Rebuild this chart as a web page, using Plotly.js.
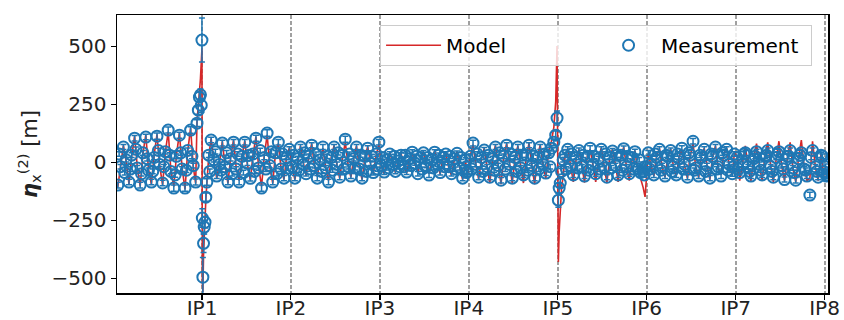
<!DOCTYPE html>
<html>
<head>
<meta charset="utf-8">
<script src="https://cdn.plot.ly/plotly-3.0.1.min.js"></script>
<style>html,body{margin:0;padding:0;background:#fff;}#chart{width:844px;height:320px;}</style>
</head>
<body>
<div id="chart"></div>
<script>
// IP positions along the ring [km] and their labels
const ipPos = [3.19, 6.52, 9.86, 13.19, 16.53, 19.86, 23.20, 26.53];
const ipLabels = ["IP1", "IP2", "IP3", "IP4", "IP5", "IP6", "IP7", "IP8"];

// BPM longitudinal positions [km] (BPMs at focusing quadrupoles and at the IRs)
const sBpm = [
 0.03,0.13,0.24,0.34,0.45,0.55,0.66,0.76,0.87,0.97,1.08,1.18,1.29,1.39,1.50,1.60,1.71,1.81,1.92,2.02,2.13,2.23,2.34,2.44,2.55,2.65,2.76,2.86,2.95,3.00,3.05,3.09,3.13,3.16,3.185,3.20,3.22,3.245,3.27,3.30,3.33,3.37,
 3.44,3.53,3.63,3.74,3.84,3.95,4.05,4.16,4.26,4.37,4.47,4.58,4.68,4.79,4.89,5.00,5.10,5.21,5.31,5.42,5.52,5.63,5.73,5.84,5.94,6.05,6.15,6.26,6.36,6.46,
 6.57,6.67,6.78,6.88,6.99,7.09,7.20,7.30,7.41,7.51,7.62,7.72,7.83,7.93,8.04,8.14,8.25,8.35,8.46,8.56,8.67,8.77,8.88,8.98,9.09,9.19,9.30,9.40,9.51,9.61,9.72,9.82,
 9.92,10.02,10.13,10.23,10.34,10.44,10.55,10.65,10.76,10.86,10.97,11.07,11.18,11.28,11.39,11.49,11.60,11.70,11.81,11.91,12.02,12.12,12.23,12.33,12.44,12.54,12.65,12.75,12.86,12.96,13.07,13.14,
 13.25,13.35,13.46,13.56,13.67,13.77,13.88,13.98,14.09,14.19,14.30,14.40,14.51,14.61,14.72,14.82,14.93,15.03,15.14,15.24,15.35,15.45,15.56,15.66,15.77,15.87,15.98,16.08,16.19,16.29,16.38,16.45,16.50,16.55,16.58,16.62,16.67,16.73,
 16.80,16.90,17.01,17.11,17.22,17.32,17.43,17.53,17.64,17.74,17.85,17.95,18.06,18.16,18.27,18.37,18.48,18.58,18.69,18.79,18.90,19.00,19.11,19.21,19.32,19.42,19.53,19.63,19.73,19.80,
 19.92,20.02,20.13,20.23,20.34,20.44,20.55,20.65,20.76,20.86,20.97,21.07,21.18,21.28,21.39,21.49,21.60,21.70,21.81,21.91,22.02,22.12,22.23,22.33,22.44,22.54,22.65,22.75,22.86,22.96,23.07,23.15,
 23.25,23.35,23.46,23.56,23.67,23.77,23.88,23.98,24.09,24.19,24.30,24.40,24.51,24.61,24.72,24.82,24.93,25.03,25.14,25.24,25.35,25.45,25.56,25.66,25.77,25.87,25.98,26.08,26.19,26.29,26.40,26.50,26.56,26.63
];

// Measured second order dispersion [m]
const etaMeas = [
 -99,-20,65,10,-86,30,103,-25,-99,40,108,-35,-86,20,112,-10,-90,45,138,-40,-112,25,116,-30,-112,50,138,-15,-86,168,224,280,290,245,526,-241,-496,-350,-280,-259,-151,-86,
 30,95,10,-60,-10,82,-20,-86,15,86,-30,-86,25,86,-5,-70,35,103,-25,-112,20,125,-15,-86,40,86,-30,-69,20,55,
 -20,-69,15,65,-10,-50,25,73,-15,-69,10,65,-25,-86,20,65,-10,-65,30,99,-20,-60,15,65,-30,-69,25,60,-5,-45,35,86,
 -15,-43,10,35,-10,-40,5,30,-20,-43,15,43,-5,-50,20,40,-15,-56,10,43,-10,-45,20,35,-20,-50,15,38,-25,-69,10,-40,
 25,82,-10,-65,20,52,-20,-65,15,65,-15,-78,25,73,-10,-69,20,65,-25,-55,30,73,-15,-69,20,65,-10,-47,40,60,86,116,190,-164,-112,-90,-40,10,
 30,55,-15,-55,20,50,-20,-60,25,60,-10,-50,15,55,-25,-65,20,48,-15,-55,30,58,-20,-50,20,45,-30,-45,-40,-20,
 40,-10,-55,20,55,-15,-60,25,50,-20,-55,15,60,-10,-65,30,90,-25,-60,20,55,-15,-69,25,65,-20,-60,30,55,-10,-50,35,
 20,-45,-10,40,-20,-60,15,45,-10,-55,25,50,-20,-65,20,45,-15,-75,25,50,-25,-78,15,40,-30,-60,-142,50,-20,-65,30,-40,-20,-55
];

// Measurement uncertainty [m]
const etaErr = [
 12,10,11,10,12,10,12,10,12,10,12,10,12,10,13,10,12,10,13,10,13,10,13,10,13,11,14,10,13,15,18,22,25,30,95,40,85,40,30,25,18,14,
 10,12,10,11,10,12,10,12,10,12,10,12,10,12,10,11,10,13,10,13,10,14,10,12,10,12,10,11,10,11,
 10,11,10,11,10,10,10,11,10,11,10,11,10,12,10,11,10,11,10,13,10,11,10,11,10,11,10,11,10,10,10,12,
 9,10,9,10,9,10,9,10,9,10,9,10,9,10,9,10,9,10,9,10,9,10,9,10,9,10,9,10,9,11,9,10,
 10,12,10,11,10,11,10,11,10,11,10,12,10,11,10,11,10,11,10,11,10,11,10,11,10,11,10,11,11,12,14,18,30,30,22,18,12,10,
 10,11,10,11,10,11,10,11,10,11,10,11,10,11,10,11,10,11,10,11,10,11,10,11,10,11,10,11,11,12,
 10,10,11,10,11,10,11,10,11,10,11,10,11,10,11,10,12,10,11,10,11,10,11,10,11,10,11,10,11,10,11,10,
 10,11,10,11,10,11,10,11,10,11,10,11,10,11,10,11,10,11,10,11,10,12,10,11,10,11,12,11,10,11,10,12,12,12
];

// Additional BPMs (defocusing quadrupoles) [km], measured values [m] and uncertainties [m]
const sBpmD = [
 0.08,0.29,0.50,0.71,0.92,1.13,1.34,1.55,1.76,1.97,2.18,2.39,2.60,2.81,
 3.48,3.69,3.90,4.11,4.32,4.53,4.74,4.95,5.16,5.37,5.58,5.79,6.00,6.21,6.42,
 6.62,6.83,7.04,7.25,7.46,7.67,7.88,8.09,8.30,8.51,8.72,8.93,9.14,9.35,9.56,9.77,
 9.97,10.18,10.39,10.60,10.81,11.02,11.23,11.44,11.65,11.86,12.07,12.28,12.49,12.70,12.91,13.10,
 13.30,13.51,13.72,13.93,14.14,14.35,14.56,14.77,14.98,15.19,15.40,15.61,15.82,16.03,16.24,
 16.85,17.06,17.27,17.48,17.69,17.90,18.11,18.32,18.53,18.74,18.95,19.16,19.37,19.58,19.77,
 19.97,20.18,20.39,20.60,20.81,21.02,21.23,21.44,21.65,21.86,22.07,22.28,22.49,22.70,22.91,23.11,
 23.30,23.51,23.72,23.93,24.14,24.35,24.56,24.77,24.98,25.19,25.40,25.61,25.82,26.03,26.24,26.45,26.60
];
const etaMeasD = [
 35,-45,-30,55,-50,15,-40,50,-20,30,-55,40,-35,25,
 -40,45,-35,40,-50,35,-45,30,-40,50,-30,45,-50,35,-25,
 30,-35,40,-30,35,-40,25,-35,40,-30,35,-25,30,-40,25,-30,
 20,-25,25,-20,30,-15,25,-30,20,-25,30,-20,25,-30,20,-45,
 -30,35,-40,30,-35,40,-30,35,-40,30,-35,25,-30,35,-20,
 -30,35,-25,30,-35,25,-30,35,-25,30,-35,25,-30,10,-55,
 -30,35,-35,30,-40,35,-30,40,-35,30,-40,35,-30,40,-35,-20,
 -30,35,-40,25,-35,30,-40,35,-30,25,-45,30,-35,20,-40,25,-60
];
const etaErrD = [
 10,10,10,10,10,10,10,10,10,10,10,10,10,10,
 10,10,10,10,10,10,10,10,10,10,10,10,10,10,10,
 9,9,9,9,9,9,9,9,9,9,9,9,9,9,9,9,
 9,9,9,9,9,9,9,9,9,9,9,9,9,9,9,9,
 10,10,10,10,10,10,10,10,10,10,10,10,10,10,10,
 10,10,10,10,10,10,10,10,10,10,10,10,10,10,10,
 10,10,10,10,10,10,10,10,10,10,10,10,10,10,10,10,
 10,10,10,10,10,10,10,10,10,10,10,10,10,10,10,10,11
];

// Model second order dispersion at the BPM positions of sBpm [m]
const etaModel = [
 -108,-15,72,5,-95,25,112,-20,-104,35,118,-30,-96,28,120,-15,-98,40,132,-35,-106,30,126,-25,-118,45,148,-20,-92,175,235,300,360,430,490,-520,-560,-400,-310,-240,-165,-90,
 25,102,5,-70,-5,90,-15,-92,20,95,-25,-80,20,92,-10,-78,30,110,-20,-105,25,118,-20,-92,35,80,-25,-75,25,60,
 -25,-75,10,70,-5,-58,30,80,-20,-62,15,60,-30,-80,25,72,-15,-70,25,85,-15,-66,20,70,-25,-75,20,68,-10,-50,30,78,
 -20,-50,15,40,-5,-45,10,38,-15,-48,20,40,-10,-45,15,46,-20,-50,15,48,-5,-52,25,40,-25,-56,10,45,-30,-75,5,-60,
 30,75,-15,-72,15,60,-25,-90,20,72,-20,-95,30,80,-5,-92,25,70,-20,-90,25,82,-20,-95,25,75,-15,-70,50,90,150,260,500,-430,-300,-200,-110,-60,
 25,60,-20,-85,15,55,-15,-88,30,55,-15,-85,20,62,-20,-90,25,55,-10,-85,25,65,-25,-80,15,50,-40,-70,-110,-150,
 35,-15,-60,25,60,-20,-65,20,58,-15,-62,20,55,-15,-70,25,80,-20,-66,25,60,-10,-75,20,70,-25,-55,35,60,-15,-58,40,
 25,-80,-5,70,-25,-82,20,80,-15,-80,30,85,-15,-85,15,90,-20,-80,20,85,-30,-85,20,95,-25,-80,-70,90,-25,-80,40,-60,-30,-70
];

const blue = "#1f77b4";
const red = "#d62728";

const traces = [
  {
    x: sBpm, y: etaModel, type: "scatter", mode: "lines", name: "Model",
    line: { color: red, width: 1.6 }
  },
  {
    x: sBpm.concat(sBpmD), y: etaMeas.concat(etaMeasD), type: "scatter", mode: "markers", name: "Measurement",
    marker: { symbol: "circle-open", size: 11, color: blue, line: { width: 2, color: blue } },
    error_y: { type: "data", array: etaErr.concat(etaErrD), visible: true, color: blue, thickness: 1.5, width: 3 }
  }
];

const layout = {
  width: 844, height: 320,
  margin: { l: 117, r: 16, t: 15, b: 27, autoexpand: false },
  paper_bgcolor: "#fff", plot_bgcolor: "#fff",
  font: { family: "DejaVu Sans", size: 20, color: "#000" },
  showlegend: true,
  legend: {
    orientation: "h", x: 0.37, xanchor: "left", y: 0.965, yanchor: "top",
    bgcolor: "rgba(255,255,255,0.8)", bordercolor: "#cccccc", borderwidth: 1,
    font: { family: "DejaVu Sans", size: 20, color: "#000" },
    itemwidth: 55, entrywidth: 145, entrywidthmode: "pixels"
  },
  xaxis: {
    range: [0, 26.66], tickmode: "array", tickvals: ipPos, ticktext: ipLabels,
    showgrid: true, gridcolor: "#a0a0a0", gridwidth: 2, griddash: "4px,2px",
    zeroline: false, showline: true, mirror: true, linecolor: "#000", linewidth: 1.5,
    ticks: "outside", ticklen: 5, tickwidth: 1.2, tickcolor: "#000",
    ticklabelstandoff: -9,
    tickfont: { family: "DejaVu Sans", size: 20, color: "#222" }
  },
  yaxis: {
    range: [-564, 634], tickvals: [-500, -250, 0, 250, 500],
    showgrid: false, zeroline: false, showline: true, mirror: true, linecolor: "#000", linewidth: 1.5,
    ticks: "outside", ticklen: 5, tickwidth: 1.2, tickcolor: "#000",
    tickfont: { family: "DejaVu Sans", size: 20, color: "#222" },
    title: { text: "<b><i>η</i></b><sub>x</sub><sup>(2)</sup> [m]", font: { family: "DejaVu Sans", size: 21, color: "#222" }, standoff: 8 }
  }
};

Plotly.newPlot("chart", traces, layout, { displayModeBar: false, staticPlot: true });
</script>
</body>
</html>
